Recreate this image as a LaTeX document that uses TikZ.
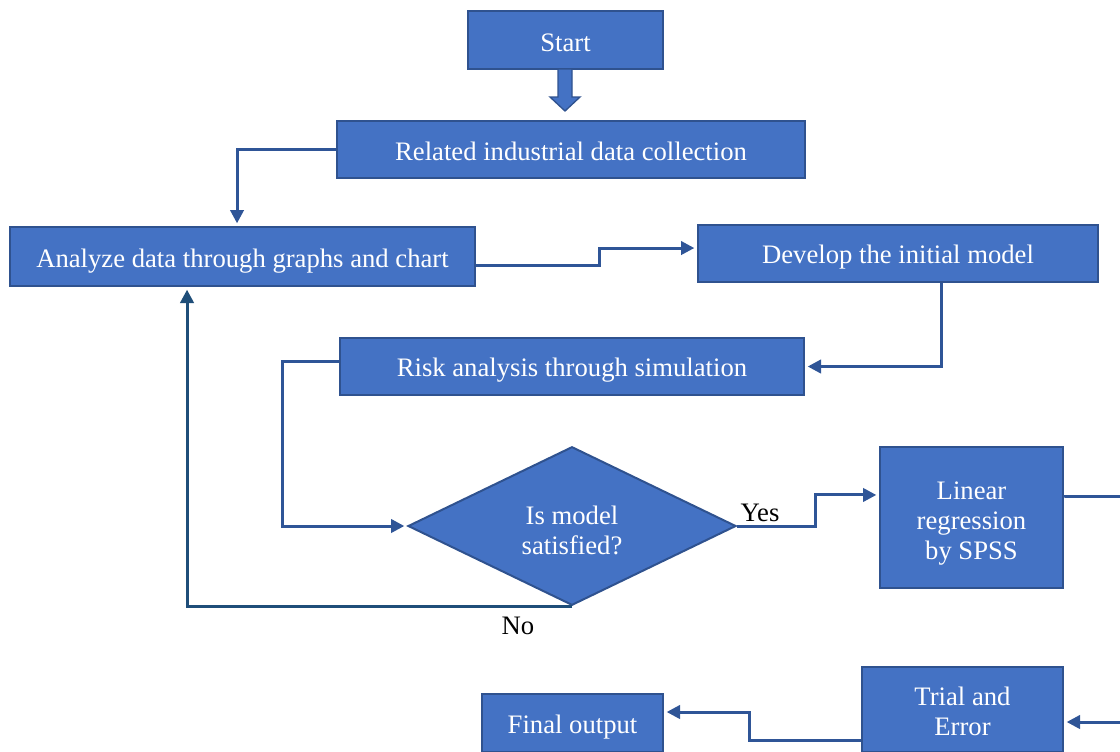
\documentclass[tikz,border=0pt]{standalone}
\usepackage{fontspec}
\setmainfont{Liberation Serif}
\usetikzlibrary{shapes.geometric,arrows.meta,calc}
\definecolor{boxfill}{HTML}{4472C4}
\definecolor{boxline}{HTML}{2F528F}
\definecolor{connc}{HTML}{2F5597}
\definecolor{conndark}{HTML}{1F4E79}
\begin{document}
\begin{tikzpicture}[x=0.75pt,y=-0.75pt,
  stepbox/.style={draw=boxline,fill=boxfill,line width=1.5pt,text=white,
    font=\fontsize{20}{22.7}\selectfont,inner sep=0pt,align=center,
    text height=16.2pt,text depth=0pt},
  decbox/.style={stepbox,shape=diamond},
  conn/.style={draw=connc,line width=2.25pt,-{Triangle[length=10pt,width=10pt]},shorten >=2pt},
  conndk/.style={conn,draw=conndark},
  lbl/.style={font=\fontsize{20}{22.7}\selectfont,text=black,inner sep=0pt}]
\useasboundingbox (0,0) rectangle (1120,751);
\clip (0,0) rectangle (1120,751);

\node[stepbox,text height=17.7pt,minimum width=146.25pt,minimum height=43.5pt] (start) at (565.5,40) {Start};
\node[stepbox,minimum width=351pt,minimum height=42.75pt] (related) at (571,149.5) {Related industrial data collection};
\node[stepbox,minimum width=348.75pt,minimum height=44.25pt] (analyze) at (242.5,256.5) {Analyze data through graphs and chart};
\node[stepbox,text height=15pt,minimum width=300pt,minimum height=42.75pt] (develop) at (898,253.5) {Develop the initial model};
\node[stepbox,text height=15pt,minimum width=348pt,minimum height=42.75pt] (risk) at (572,366.5) {Risk analysis through simulation};
\node[decbox,text height=43.4pt,minimum width=246pt,minimum height=118.5pt] (dia) at (572,526) {Is model\\satisfied?};
\node[stepbox,text height=63.1pt,minimum width=137.25pt,minimum height=105.75pt] (linear) at (971.5,517.5) {Linear\\regression\\by SPSS};
\node[stepbox,text height=38.9pt,minimum width=150.75pt,minimum height=63.75pt] (trial) at (962.5,709.5) {Trial and\\Error};
\node[stepbox,minimum width=135.75pt,minimum height=43.5pt] (final) at (572.5,723) {Final output};

\node[lbl] (yes) at (760,512.5) {Yes};
\node[lbl] (no) at (518,626) {No};

% block arrow Start -> Related
\filldraw[fill=boxfill,draw=boxline,line width=1pt]
  (558,69) -- (572,69) -- (572,97) -- (580,97) -- (565,111) -- (550,97) -- (558,97) -- cycle;

\coordinate (s1) at (599,256);
\coordinate (s3) at (282,450);
\coordinate (s4) at (815,510);
\coordinate (s5) at (749,725);
\coordinate (e1) at (1125,496);
\coordinate (e2) at (1125,722);

\draw[conn] (related.west) -| ([xshift=-4.1pt]analyze.north);
\draw[conn] ([yshift=-6.4pt]analyze.east) -| (s1) |- ([yshift=4.1pt]develop.west);
\draw[conn] ([xshift=32.25pt]develop.south) |- (risk.east);
\draw[conn] ([yshift=3.4pt]risk.west) -| (s3) |- (dia.west);
\draw[conn] (dia.east) -| (s4) |- ([yshift=16.9pt]linear.west);
\draw[conndk] (dia.south) -| ([xshift=-41.6pt]analyze.south);
\draw[conn,-] ([yshift=16.1pt]linear.east) -- (linear.east |- e1) -- (e1);
\draw[conn] (e2) -- (trial.east |- e2);
\draw[conn] (trial.west |- 0,740) -| (s5) |- (final.east |- 0,712);
\end{tikzpicture}
\end{document}
